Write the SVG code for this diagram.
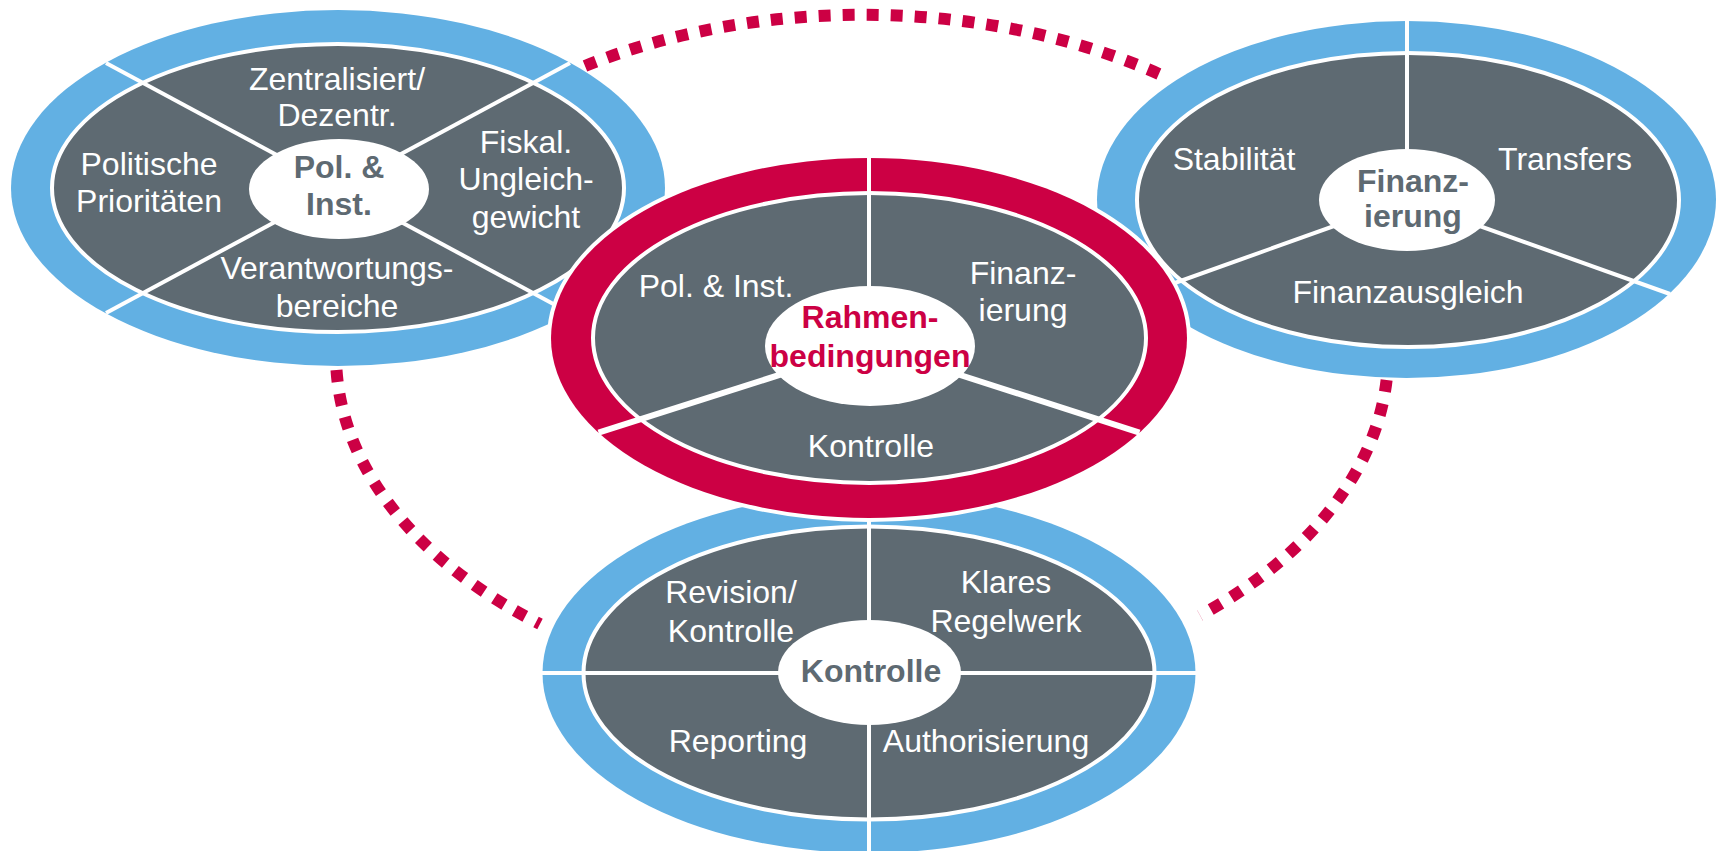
<svg xmlns="http://www.w3.org/2000/svg" width="1717" height="851" viewBox="0 0 1717 851">
<style>
.blue{fill:#62b0e3}
.red{fill:#cc0044;stroke:#fff;stroke-width:8;paint-order:stroke}
.seg{fill:#5e6a72;stroke:#fff;stroke-width:4}
.dv{stroke:#fff;stroke-width:4;fill:none}
.dvw{stroke:#fff;stroke-width:6;fill:none}
.hub{fill:#fff}
text{font-family:"Liberation Sans",Arial,sans-serif;font-size:32px;fill:#fff;text-anchor:middle}
.ht{font-weight:bold;fill:#5e6a72}
.hr{font-weight:bold;fill:#cc0044}
.dots{fill:none;stroke:#cc0044;stroke-width:12;stroke-dasharray:12 12}
</style>
<rect width="1717" height="851" fill="#fff"/>
<g id="connectors">
<path class="dots" d="M 585 66 A 526 340 0 0 1 1168 78"/>
<path class="dots" d="M 336.5 370 A 526 340 0 0 0 540 624"/>
<path class="dots" d="M 1386.6 380 A 526 340 0 0 1 1200 615.5"/>
</g>
<g id="node-pol">
<ellipse class="blue" cx="338" cy="188" rx="327" ry="178"/>
<ellipse class="seg" cx="338" cy="188" rx="286" ry="144"/>
<line class="dv" x1="106" y1="63" x2="570" y2="313"/>
<line class="dv" x1="570" y1="63" x2="106" y2="313"/>
<ellipse class="hub" cx="339" cy="189" rx="90" ry="50"/>
<text x="337" y="90">Zentralisiert/</text>
<text x="337" y="126">Dezentr.</text>
<text x="149" y="175">Politische</text>
<text x="149" y="212">Prioritäten</text>
<text x="526" y="153">Fiskal.</text>
<text x="526" y="190">Ungleich-</text>
<text x="526" y="228">gewicht</text>
<text x="337" y="279">Verantwortungs-</text>
<text x="337" y="317">bereiche</text>
<text class="ht" x="339" y="178">Pol. &amp;</text>
<text class="ht" x="339" y="215">Inst.</text>
</g>
<g id="node-fin">
<ellipse class="blue" cx="1406.5" cy="199.5" rx="309.5" ry="178.5"/>
<ellipse class="seg" cx="1408" cy="200" rx="271" ry="147"/>
<line class="dv" x1="1407" y1="18" x2="1407" y2="200"/>
<line class="dv" x1="1407" y1="200" x2="1144" y2="294"/>
<line class="dv" x1="1407" y1="200" x2="1670" y2="294"/>
<ellipse class="hub" cx="1407" cy="200" rx="88" ry="51"/>
<text x="1234" y="170">Stabilität</text>
<text x="1565" y="170">Transfers</text>
<text x="1408" y="303">Finanzausgleich</text>
<text class="ht" x="1413" y="192">Finanz-</text>
<text class="ht" x="1413" y="227">ierung</text>
</g>
<g id="node-kontrolle">
<ellipse class="blue" cx="869" cy="673" rx="326.5" ry="180"/>
<ellipse class="seg" cx="869" cy="673" rx="285.5" ry="146.5"/>
<line class="dv" x1="540" y1="673" x2="1198" y2="673"/>
<line class="dv" x1="869" y1="490" x2="869" y2="860"/>
<ellipse class="hub" cx="869.5" cy="672.5" rx="91.5" ry="52.5"/>
<text x="731" y="603">Revision/</text>
<text x="731" y="642">Kontrolle</text>
<text x="1006" y="593">Klares</text>
<text x="1006" y="632">Regelwerk</text>
<text x="738" y="752">Reporting</text>
<text x="986" y="752">Authorisierung</text>
<text class="ht" x="871" y="682">Kontrolle</text>
</g>
<g id="node-rahmen">
<ellipse class="red" cx="869" cy="338" rx="318" ry="180"/>
<ellipse class="seg" cx="869.5" cy="338" rx="276.5" ry="145"/>
<line class="dv" x1="869" y1="156" x2="869" y2="346" stroke-width="5"/>
<line class="dvw" x1="870" y1="346" x2="598.5" y2="432.7"/>
<line class="dvw" x1="870" y1="346" x2="1139.5" y2="432.7"/>
<ellipse class="hub" cx="870" cy="346" rx="105" ry="60"/>
<text x="716" y="297">Pol. &amp; Inst.</text>
<text x="1023" y="284">Finanz-</text>
<text x="1023" y="321">ierung</text>
<text x="871" y="457">Kontrolle</text>
<text class="hr" x="870" y="328">Rahmen-</text>
<text class="hr" x="870" y="367">bedingungen</text>
</g>
</svg>
